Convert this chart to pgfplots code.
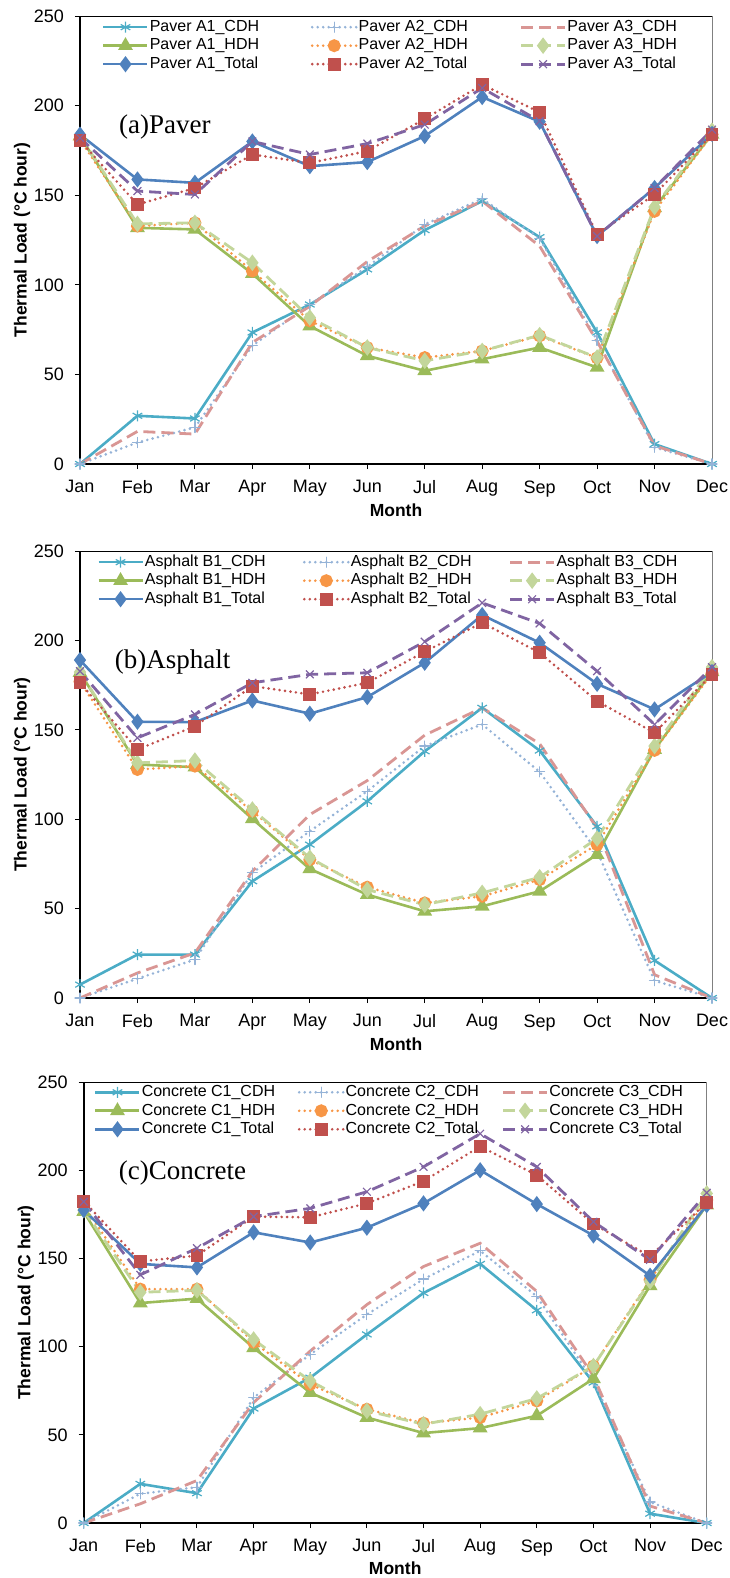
\documentclass[border=0pt]{standalone}
\usepackage{fontspec}
\setmainfont{Liberation Sans}
\newfontfamily\tnr{Liberation Serif}
\usepackage{pgfplots}
\usepackage{pgfplotstable}
\pgfplotsset{compat=1.18}

\definecolor{cA}{HTML}{4BACC6}
\definecolor{cB}{HTML}{95B3D7}
\definecolor{cC}{HTML}{D99694}
\definecolor{cD}{HTML}{9BBB59}
\definecolor{cE}{HTML}{F79646}
\definecolor{cF}{HTML}{C3D69B}
\definecolor{cG}{HTML}{4F81BD}
\definecolor{cH}{HTML}{C0504D}
\definecolor{cI}{HTML}{8064A2}

\newcommand\fs{\fontsize{16bp}{19bp}\selectfont}
\newcommand\fl{\fontsize{18bp}{21bp}\selectfont}
\newlength\lbw
\newcommand\lb[1]{\makebox[\lbw][l]{#1}}

% columns: CDH, HDH, Total for the three sections of each pavement
\pgfplotstableread{
m  c1    c2    c3    h1    h2    h3    t1    t2    t3
0  0     0     0     183   181   183   183.8 180.5 182
1  26.9  12    18.2  131.8 132.8 134   158.8 144.8 152.3
2  25.4  20.4  16.7  130.9 134.6 134.6 156.9 154   150.4
3  73.4  66    67.8  106.2 107.7 112.3 180   172.7 180
4  89    89    88    77    79.9  81.7  166.2 168   172.7
5  108.6 110   113   60.4  65    65    168.5 174.6 178.8
6  130.5 133.7 132.8 52    59.4  57.6  183   192.6 189.4
7  146.7 148   146.7 58.5  63.1  63.1  204.8 211.7 209.8
8  126.6 126   121.6 65    71.5  71.9  191   196.3 191.3
9  73.4  69    68.5  53.9  59.2  59.4  127.2 128.1 127.2
10 11.1  9.3   10.2  143   141   143.4 154   150.4 154
11 0     0     0     184   183.8 186   184.2 183.8 186.6
}\paver

\pgfplotstableread{
m  c1    c2    c3    h1    h2    h3    t1    t2    t3
0  7.5   0     0     182   177   182.3 189   176.3 182.8
1  24.3  10.8  14    130.6 127.8 131.5 154.5 139   145.5
2  24.3  21.5  25.2  129.1 129.7 132.8 154.3 152   158.6
3  65.3  70    70.9  100.2 104.5 105.4 166.4 174.4 176.3
4  85.8  93.3  102.6 72.2  77.4  78.4  159   169.8 181
5  110   115.7 121.6 57.8  62    60.6  168.3 176.3 181.9
6  138   140.9 147   48.5  53.2  52.2  187.5 193.7 199.3
7  162.3 153   162.3 51.3  56.9  58.8  214.2 209.9 221
8  138.4 126.5 142.2 59.7  66.2  67.5  198.7 193.1 209.5
9  96    82    95    80.2  85.8  89.2  175.7 166   182.8
10 21    9.7   13    139   138.5 140.9 161.4 148.3 153
11 0     0     0     182.5 181.5 185   182.3 181   185
}\asphalt

\pgfplotstableread{
m  c1    c2    c3    h1    h2    h3    t1    t2    t3
0  0     0     0     176.5 180   177.4 177.4 182.5 182.1
1  22.2  16.6  10.9  124.7 132.6 130.8 146.9 148.3 140.7
2  16.9  20.3  24.1  127.2 132.6 131.9 144.9 151.6 155.8
3  64.9  71.1  68.3  99.3  102.5 104   164.8 173.7 173.7
4  82.4  95.6  97.5  73.9  78.6  80.5  159   173.3 178.4
5  106.9 118.2 123.8 59.8  64.5  63.6  167.4 181.2 187.8
6  130.4 138.3 145.4 51    56.6  56    181.2 193.8 201.9
7  146.9 154.3 158.6 53.8  59.8  61.7  200   213.5 220.7
8  120.6 128.5 131.3 60.8  69.2  70.6  180.8 197.2 201.9
9  79.6  80.5  83.3  81.8  89    89    163   169.5 170.8
10 5.3   11.9  9.6   134.5 137.9 137   140.2 151.1 149.2
11 0     0     0     180.2 183.1 186.8 180.2 181.7 187.2
}\concrete

\pgfplotsset{
  ln/.style={line width=2.6bp},
  dots/.style={line width=2.9bp, line cap=round, dash pattern=on 0bp off 5.5bp},
  dsh/.style={line width=2.8bp, dash pattern=on 12bp off 6bp},
  s1/.style={ln, color=cA, mark=asterisk, mark size=5.5bp, mark options={line width=1.2bp}},
  s2/.style={dots, color=cB, mark=+, mark size=5bp, mark options={solid, line width=1.2bp}},
  s3/.style={dsh, color=cC, no markers},
  s4/.style={ln, color=cD, mark=triangle*, mark size=6bp, mark options={solid}},
  s5/.style={dots, color=cE, mark=*, mark size=5bp, mark options={solid}},
  s6/.style={dsh, color=cF, mark=diamond*, mark size=6bp, mark options={solid}},
  s7/.style={ln, color=cG, mark=diamond*, mark size=6bp, mark options={solid}},
  s8/.style={dots, color=cH, mark=square*, mark size=5bp, mark options={solid}},
  s9/.style={dsh, color=cI, mark=x, mark size=5.5bp, mark options={solid, line width=1.2bp}},
  panel/.style={
    scale only axis, width=632bp, height=448bp,
    xmin=0, xmax=11, ymin=0, ymax=250, clip=false,
    xtick={0,...,11},
    xticklabels={Jan,Feb,Mar,Apr,May,Jun,Jul,Aug,Sep,Oct,Nov,Dec},
    ytick={0,50,...,250},
    axis lines*=left, axis line style={line width=2bp, -},
    tick align=outside, major tick length=5bp,
    tick style={black, line width=1bp},
    every tick label/.append style={font=\fl},
    yticklabel style={/pgf/number format/assume math mode=true, xshift=-7.5bp},
    xticklabel style={yshift=-8bp},
    xlabel={Month}, ylabel={Thermal Load (°C hour)},
    label style={font=\fontsize{17.5bp}{20bp}\selectfont\bfseries},
    xlabel style={at={(axis description cs:0.5,-0.103)}, anchor=center},
    ylabel style={at={(axis description cs:-0.0918,0.5)}, anchor=center, rotate=0},
    legend style={draw=none, fill=none, anchor=north west,
      font=\fs, inner sep=0pt, row sep=1bp, column sep=0bp,
      nodes={inner sep=1bp, text height=12bp, text depth=3.5bp}},
    legend columns=3, legend cell align=left,
    legend image code/.code={\draw[mark repeat=2,mark phase=2]
      plot coordinates {(0bp,0bp) (22bp,0bp) (44bp,0bp)};},
  },
}

\newcommand\boxlines{%
  \draw[line width=0.8bp] (rel axis cs:0,1) -- (rel axis cs:1,1);
  \draw[gray, line width=0.8bp] (rel axis cs:1,1) -- (rel axis cs:1,0);}

\begin{document}
\begin{tikzpicture}
\useasboundingbox (0bp,0bp) rectangle (730bp,-1578bp);
% (a) Paver
\setlength\lbw{160bp}
\begin{axis}[panel, at={(80bp,-464bp)},
  legend style={at={(0.0348,0.995)}}]
\boxlines
\addplot[s1] table[x=m,y=c1] {\paver};
\addplot[s2] table[x=m,y=c2] {\paver};
\addplot[s3] table[x=m,y=c3] {\paver};
\addplot[s4] table[x=m,y=h1] {\paver};
\addplot[s5] table[x=m,y=h2] {\paver};
\addplot[s6] table[x=m,y=h3] {\paver};
\addplot[s7] table[x=m,y=t1] {\paver};
\addplot[s8] table[x=m,y=t2] {\paver};
\addplot[s9] table[x=m,y=t3] {\paver};
\legend{\lb{Paver A1\_CDH},\lb{Paver A2\_CDH},\lb{Paver A3\_CDH},
  \lb{Paver A1\_HDH},\lb{Paver A2\_HDH},\lb{Paver A3\_HDH},
  \lb{Paver A1\_Total},\lb{Paver A2\_Total},\lb{Paver A3\_Total}}
\node[anchor=west, font=\tnr\fontsize{27bp}{30bp}\selectfont, inner sep=0pt]
  at (rel axis cs:0.0617,0.752) {(a)Paver};
\end{axis}

% (b) Asphalt
\setlength\lbw{157bp}
\begin{axis}[panel, at={(80bp,-998bp)}, height=447bp,
  legend style={at={(0.027,0.995)}}]
\boxlines
\addplot[s1] table[x=m,y=c1] {\asphalt};
\addplot[s2] table[x=m,y=c2] {\asphalt};
\addplot[s3] table[x=m,y=c3] {\asphalt};
\addplot[s4] table[x=m,y=h1] {\asphalt};
\addplot[s5] table[x=m,y=h2] {\asphalt};
\addplot[s6] table[x=m,y=h3] {\asphalt};
\addplot[s7] table[x=m,y=t1] {\asphalt};
\addplot[s8] table[x=m,y=t2] {\asphalt};
\addplot[s9] table[x=m,y=t3] {\asphalt};
\legend{\lb{Asphalt B1\_CDH},\lb{Asphalt B2\_CDH},\lb{Asphalt B3\_CDH},
  \lb{Asphalt B1\_HDH},\lb{Asphalt B2\_HDH},\lb{Asphalt B3\_HDH},
  \lb{Asphalt B1\_Total},\lb{Asphalt B2\_Total},\lb{Asphalt B3\_Total}}
\node[anchor=west, font=\tnr\fontsize{27bp}{30bp}\selectfont, inner sep=0pt]
  at (rel axis cs:0.055,0.752) {(b)Asphalt};
\end{axis}

% (c) Concrete
\setlength\lbw{155bp}
\begin{axis}[panel, at={(83.7bp,-1523bp)}, width=623bp, height=441bp,
  ylabel style={at={(axis description cs:-0.093,0.5)}},
  legend style={at={(0.0165,0.997)}}]
\boxlines
\addplot[s1] table[x=m,y=c1] {\concrete};
\addplot[s2] table[x=m,y=c2] {\concrete};
\addplot[s3] table[x=m,y=c3] {\concrete};
\addplot[s4] table[x=m,y=h1] {\concrete};
\addplot[s5] table[x=m,y=h2] {\concrete};
\addplot[s6] table[x=m,y=h3] {\concrete};
\addplot[s7] table[x=m,y=t1] {\concrete};
\addplot[s8] table[x=m,y=t2] {\concrete};
\addplot[s9] table[x=m,y=t3] {\concrete};
\legend{\lb{Concrete C1\_CDH},\lb{Concrete C2\_CDH},\lb{Concrete C3\_CDH},
  \lb{Concrete C1\_HDH},\lb{Concrete C2\_HDH},\lb{Concrete C3\_HDH},
  \lb{Concrete C1\_Total},\lb{Concrete C2\_Total},\lb{Concrete C3\_Total}}
\node[anchor=west, font=\tnr\fontsize{27bp}{30bp}\selectfont, inner sep=0pt]
  at (rel axis cs:0.056,0.793) {(c)Concrete};
\end{axis}
\end{tikzpicture}
\end{document}
